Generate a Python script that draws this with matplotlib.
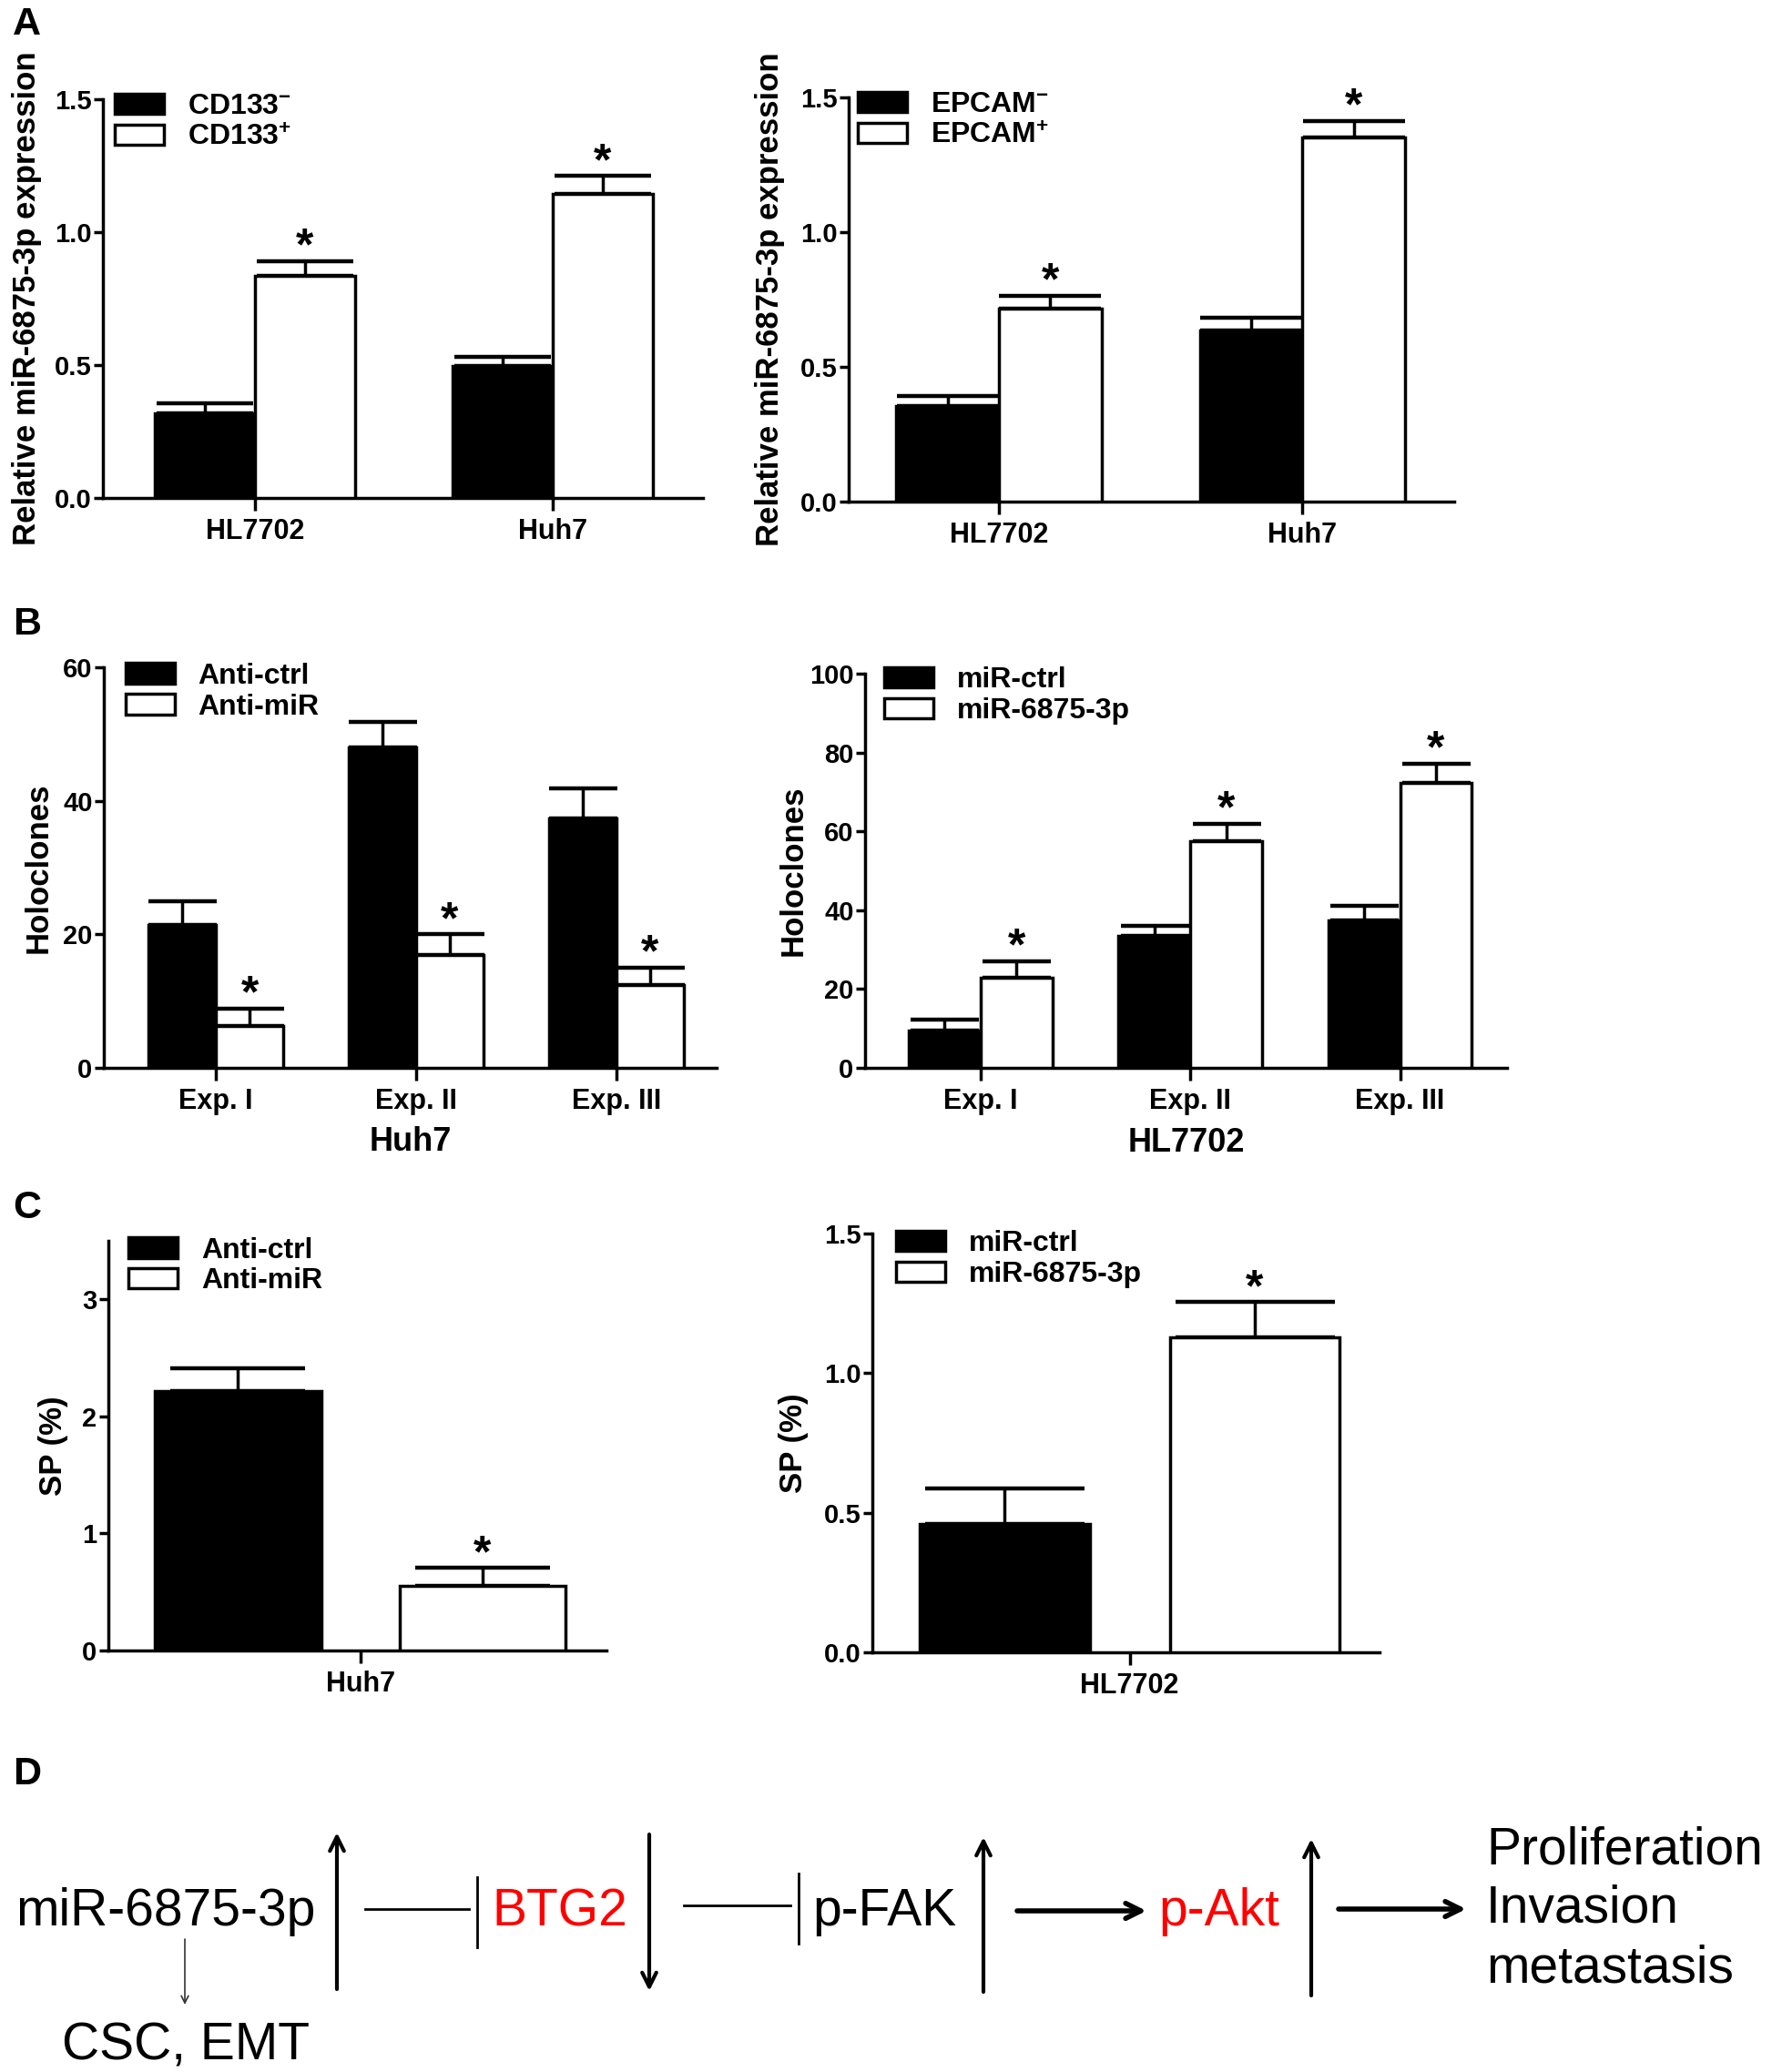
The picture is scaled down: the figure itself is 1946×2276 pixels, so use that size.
import matplotlib
matplotlib.use('Agg')
import matplotlib.pyplot as plt
import numpy as np
from matplotlib.ticker import FormatStrFormatter

plt.rcParams['font.family'] = ['Liberation Sans', 'DejaVu Sans']
plt.rcParams['font.weight'] = 'bold'
plt.rcParams['mathtext.fontset'] = 'custom'
plt.rcParams['mathtext.rm'] = 'Liberation Sans:bold'
plt.rcParams['mathtext.it'] = 'Liberation Sans:bold'
plt.rcParams['mathtext.bf'] = 'Liberation Sans:bold'

# ---- data ----
a_groups = ['HL7702', 'Huh7']
a1_neg = [0.32, 0.496]
a1_neg_err = [0.035, 0.034]
a1_pos = [0.834, 1.144]
a1_pos_err = [0.058, 0.067]

a2_neg = [0.356, 0.635]
a2_neg_err = [0.035, 0.047]
a2_pos = [0.715, 1.352]
a2_pos_err = [0.05, 0.06]

b_exps = ['Exp. I', 'Exp. II', 'Exp. III']
b1_ctrl = [21.4, 48.0, 37.4]
b1_ctrl_err = [3.5, 3.8, 4.5]
b1_anti = [6.3, 16.9, 12.4]
b1_anti_err = [2.6, 3.1, 2.6]

b2_ctrl = [9.5, 33.6, 37.4]
b2_ctrl_err = [2.8, 2.5, 3.8]
b2_mir = [22.9, 57.5, 72.4]
b2_mir_err = [4.1, 4.4, 4.7]

c1_vals = [2.22, 0.555]
c1_err = [0.19, 0.15]
c2_vals = [0.461, 1.128]
c2_err = [0.126, 0.126]

W, H = 1946, 2276
fig = plt.figure(figsize=(W / 100, H / 100), dpi=100)
LW = 2.5


def px_axes(x0, x1, y0, y1):
    return fig.add_axes([x0 / W, 1 - y1 / H, (x1 - x0) / W, (y1 - y0) / H])


def bar_panel(ax, groups, offsets, width, series, cap, xlim, ylim, yticks, fmt,
              ylabel, ylab_x, legend_xy, starred=1):
    x = np.arange(len(groups))
    handles = []
    for k, (vals, errs, color, lab) in enumerate(series):
        xs = x + offsets[k]
        b = ax.bar(xs, vals, width, color=color, edgecolor='black', linewidth=LW,
                   label=lab, zorder=3)
        ax.errorbar(xs, vals, yerr=[np.zeros(len(vals)), errs], fmt='none',
                    ecolor='black', elinewidth=LW, capsize=cap, capthick=3.2, zorder=2)
        handles.append(b)
        if k == starred:
            for xi, v, e in zip(xs, vals, errs):
                ax.annotate('*', xy=(xi, v + e), xytext=(0, 1), textcoords='offset points',
                            ha='center', va='baseline', fontsize=36, fontweight='bold')
    ax.set_xlim(*xlim)
    ax.set_ylim(*ylim)
    ax.set_yticks(yticks)
    if fmt:
        ax.yaxis.set_major_formatter(FormatStrFormatter(fmt))
    ax.set_xticks(x)
    ax.set_xticklabels(groups)
    for s in ['top', 'right']:
        ax.spines[s].set_visible(False)
    for s in ['left', 'bottom']:
        ax.spines[s].set_linewidth(LW)
    ax.tick_params(axis='y', direction='out', length=7, width=LW, labelsize=21, pad=2)
    ax.tick_params(axis='x', direction='out', length=10, width=LW, labelsize=22, pad=6)
    ax.set_ylabel(ylabel, fontsize=25, fontweight='bold')
    ax.yaxis.set_label_coords(ylab_x, 0.5)
    ax.legend(handles=handles, labels=[s[3] for s in series], loc='upper left',
              bbox_to_anchor=legend_xy, frameon=False, fontsize=23, handlelength=1.7,
              handleheight=0.7, handletextpad=0.8, labelspacing=0.12,
              borderaxespad=0, borderpad=0)
    return ax


w2 = 0.337
# ---- A ----
ax = px_axes(113, 772, 109, 547)
bar_panel(ax, a_groups, [-w2 / 2, w2 / 2], w2,
          [(a1_neg, a1_neg_err, 'black', r'CD133$^{-}$'),
           (a1_pos, a1_pos_err, 'white', r'CD133$^{+}$')],
          38, (-0.51, 1.505), (0, 1.5), [0, 0.5, 1.0, 1.5], '%.1f',
          'Relative miR-6875-3p expression', -0.102, (0.02, 1.015))

ax = px_axes(932, 1597, 107, 551)
bar_panel(ax, a_groups, [-0.338 / 2, 0.338 / 2], 0.338,
          [(a2_neg, a2_neg_err, 'black', r'EPCAM$^{-}$'),
           (a2_pos, a2_pos_err, 'white', r'EPCAM$^{+}$')],
          40, (-0.495, 1.5), (0, 1.5), [0, 0.5, 1.0, 1.5], '%.1f',
          'Relative miR-6875-3p expression', -0.105, (0.015, 1.015))

# ---- B ----
ax = px_axes(114, 787, 733, 1173)
bar_panel(ax, b_exps, [-0.168, 0.168], 0.336,
          [(b1_ctrl, b1_ctrl_err, 'black', 'Anti-ctrl'),
           (b1_anti, b1_anti_err, 'white', 'Anti-miR')],
          27, (-0.56, 2.5), (0, 60), [0, 20, 40, 60], None,
          'Holoclones', -0.083, (0.035, 1.012))
ax.set_xlabel('Huh7', fontsize=26, fontweight='bold')
ax.xaxis.set_label_coords(0.5, -0.185)
ax.xaxis.label.set_va('center')

ax = px_axes(950, 1655, 740, 1173)
bar_panel(ax, b_exps, [-0.171, 0.171], 0.342,
          [(b2_ctrl, b2_ctrl_err, 'black', 'miR-ctrl'),
           (b2_mir, b2_mir_err, 'white', 'miR-6875-3p')],
          27, (-0.55, 2.51), (0, 100), [0, 20, 40, 60, 80, 100], None,
          'Holoclones', -0.088, (0.03, 1.018))
ax.set_xlabel('HL7702', fontsize=26, fontweight='bold')
ax.xaxis.set_label_coords(0.5, -0.19)
ax.xaxis.label.set_va('center')

# ---- C ----
ax = px_axes(119, 666, 1363, 1813)
bar_panel(ax, ['Huh7'], [-0.5, 0.5], 0.68,
          [([c1_vals[0]], [c1_err[0]], 'black', 'Anti-ctrl'),
           ([c1_vals[1]], [c1_err[1]], 'white', 'Anti-miR')],
          53, (-1.03, 1.006), (0, 3.5), [0, 1, 2, 3], None,
          'SP (%)', -0.080, (0.04, 1.01))

ax = px_axes(958, 1515, 1355, 1815)
bar_panel(ax, ['HL7702'], [-0.5, 0.5], 0.68,
          [([c2_vals[0]], [c2_err[0]], 'black', 'miR-ctrl'),
           ([c2_vals[1]], [c2_err[1]], 'white', 'miR-6875-3p')],
          63, (-1.03, 1.0), (0, 1.5), [0, 0.5, 1.0, 1.5], '%.1f',
          'SP (%)', -0.126, (0.047, 1.008))

# ---- overlay: panel letters and pathway diagram (D) ----
axd = fig.add_axes([0, 0, 1, 1], zorder=-1)
axd.set_xlim(0, W)
axd.set_ylim(H, 0)
axd.axis('off')

for letter, y in [('A', 38), ('B', 697), ('C', 1338), ('D', 1960)]:
    axd.text(14, y, letter, fontsize=31, fontweight='bold', va='baseline')

dfs = 41
nodes = [('miR-6875-3p', 17, 'black'), ('BTG2', 540, '#ff0000'),
         ('p-FAK', 892, 'black'), ('p-Akt', 1272, '#ff0000')]
for txt, x, c in nodes:
    axd.text(x, 2115, txt, fontsize=dfs, fontweight='normal', color=c, va='baseline')

for i, txt in enumerate(['Proliferation', 'Invasion', 'metastasis']):
    axd.text(1632, 2047 + i * 65, txt, fontsize=dfs, fontweight='normal', va='baseline')
axd.text(68, 2263, 'CSC, EMT', fontsize=dfs, fontweight='normal', va='baseline')

arr = dict(arrowstyle='->', lw=3, color='black', mutation_scale=28, shrinkA=0, shrinkB=0)
# vertical up / down arrows
for x, y_tail, y_tip in [(370, 2185, 2013), (713, 2015, 2187),
                         (1080, 2188, 2018), (1440, 2192, 2020)]:
    axd.annotate('', xy=(x, y_tip), xytext=(x, y_tail), arrowprops=arr)
# thin arrow to CSC, EMT
axd.annotate('', xy=(203, 2202), xytext=(203, 2130),
             arrowprops=dict(arrowstyle='->', lw=1.2, color='#333333',
                             mutation_scale=14, shrinkA=0, shrinkB=0))
# inhibition lines
for x0, x1, y, yb0, yb1 in [(401, 515, 2097, 2062, 2139), (751, 868, 2093, 2058, 2135)]:
    axd.plot([x0, x1], [y, y], color='black', lw=2)
    axd.plot([x1 + 9, x1 + 9], [yb0, yb1], color='black', lw=2)
# activating arrows
for x0, x1, y in [(1117, 1259, 2099), (1470, 1610, 2097)]:
    axd.annotate('', xy=(x1, y), xytext=(x0, y),
                 arrowprops=dict(arrowstyle='->', lw=4, color='black',
                                 mutation_scale=30, shrinkA=0, shrinkB=0))

fig.savefig('out.png', dpi=100)
